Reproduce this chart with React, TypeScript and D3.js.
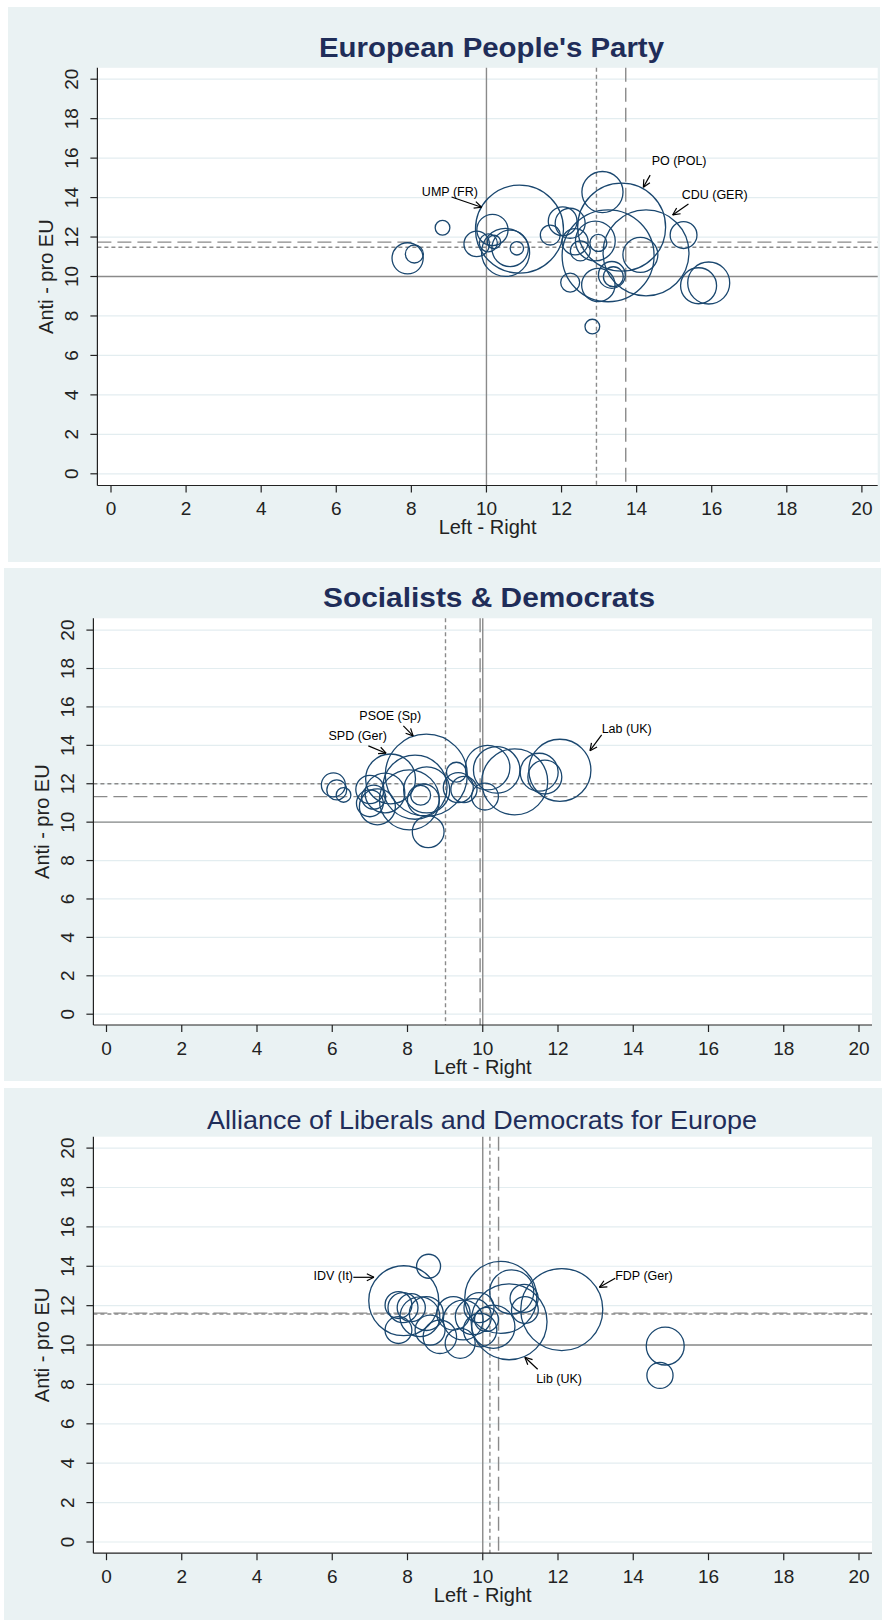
import React from 'react';
import * as d3 from 'd3';

type Party = { lr: number; eu: number; w: number };
type Note = { text: string; tx: number; ty: number; x1: number; y1: number; x2: number; y2: number };
type Refs = { midX: number; midY: number; meanX: number; meanY: number; wMeanX: number; wMeanY: number };

const xTicks = [0, 2, 4, 6, 8, 10, 12, 14, 16, 18, 20];
const yTicks = [0, 2, 4, 6, 8, 10, 12, 14, 16, 18, 20];

const titles = ["European People's Party", 'Socialists & Democrats', 'Alliance of Liberals and Democrats for Europe'];
const xTitle = 'Left - Right';
const yTitle = 'Anti - pro EU';

// European People's Party: left-right, anti-pro EU, size weight
const eppParties: Party[] = [
  { lr: 7.9, eu: 10.92, w: 27 }, { lr: 8.08, eu: 11.14, w: 9 }, { lr: 8.83, eu: 12.47, w: 6 },
  { lr: 10.88, eu: 12.4, w: 215 }, { lr: 10.16, eu: 12.36, w: 27 }, { lr: 9.74, eu: 11.65, w: 18 },
  { lr: 10.05, eu: 11.7, w: 9 }, { lr: 10.2, eu: 11.75, w: 5 }, { lr: 10.63, eu: 11.43, w: 37 },
  { lr: 10.81, eu: 11.43, w: 5 }, { lr: 10.51, eu: 11.22, w: 64 }, { lr: 12.03, eu: 12.8, w: 23 },
  { lr: 11.7, eu: 12.1, w: 11 }, { lr: 12.23, eu: 12.7, w: 25 }, { lr: 12.36, eu: 11.76, w: 19 },
  { lr: 12.5, eu: 11.3, w: 11 }, { lr: 12.98, eu: 11.7, w: 8 }, { lr: 13.6, eu: 12.5, w: 215 },
  { lr: 13.09, eu: 14.28, w: 47 }, { lr: 14.25, eu: 11.2, w: 205 }, { lr: 13.24, eu: 11.05, w: 235 },
  { lr: 14.1, eu: 11.1, w: 34 }, { lr: 15.25, eu: 12.1, w: 20 }, { lr: 15.92, eu: 9.67, w: 49 },
  { lr: 15.65, eu: 9.53, w: 36 }, { lr: 12.82, eu: 7.46, w: 6 }, { lr: 12.98, eu: 9.57, w: 31 },
  { lr: 12.23, eu: 9.69, w: 10 }, { lr: 13.34, eu: 10.08, w: 20 }, { lr: 13.38, eu: 9.99, w: 11 },
  { lr: 12.9, eu: 11.8, w: 44 },
];

const sdParties: Party[] = [
  { lr: 6.03, eu: 11.94, w: 16 }, { lr: 6.12, eu: 11.68, w: 11 }, { lr: 6.3, eu: 11.42, w: 6 },
  { lr: 7.55, eu: 12.25, w: 69 }, { lr: 8.5, eu: 12.45, w: 187 }, { lr: 8.2, eu: 11.82, w: 114 },
  { lr: 7.0, eu: 10.98, w: 20 }, { lr: 7.2, eu: 10.8, w: 36 }, { lr: 7.4, eu: 11.52, w: 44 },
  { lr: 8.55, eu: 9.5, w: 28 }, { lr: 8.42, eu: 11.16, w: 28 }, { lr: 8.51, eu: 11.68, w: 59 },
  { lr: 8.35, eu: 11.4, w: 11 }, { lr: 8.05, eu: 11.16, w: 100 }, { lr: 7.1, eu: 11.3, w: 16 },
  { lr: 9.35, eu: 11.8, w: 25 }, { lr: 9.5, eu: 11.7, w: 19 }, { lr: 9.3, eu: 12.6, w: 11 },
  { lr: 10.13, eu: 12.84, w: 55 }, { lr: 10.37, eu: 12.72, w: 60 }, { lr: 10.85, eu: 12.1, w: 121 },
  { lr: 12.05, eu: 12.7, w: 107 }, { lr: 11.5, eu: 12.6, w: 40 }, { lr: 11.65, eu: 12.35, w: 32 },
  { lr: 10.06, eu: 11.33, w: 20 }, { lr: 7.0, eu: 11.7, w: 22 },
];

const aldeParties: Party[] = [
  { lr: 7.9, eu: 12.25, w: 136 }, { lr: 8.56, eu: 14.0, w: 16 }, { lr: 7.76, eu: 12.03, w: 20 },
  { lr: 7.88, eu: 11.9, w: 25 }, { lr: 7.76, eu: 10.76, w: 20 }, { lr: 8.33, eu: 11.44, w: 44 },
  { lr: 8.6, eu: 10.76, w: 25 }, { lr: 8.5, eu: 11.6, w: 32 }, { lr: 9.22, eu: 11.61, w: 31 },
  { lr: 9.4, eu: 10.09, w: 25 }, { lr: 8.86, eu: 10.42, w: 31 }, { lr: 9.48, eu: 11.27, w: 44 },
  { lr: 9.75, eu: 11.44, w: 36 }, { lr: 8.1, eu: 11.9, w: 22 }, { lr: 12.1, eu: 11.8, w: 187 },
  { lr: 10.48, eu: 12.42, w: 144 }, { lr: 10.7, eu: 11.18, w: 160 }, { lr: 10.77, eu: 12.7, w: 54 },
  { lr: 11.1, eu: 12.37, w: 22 }, { lr: 11.12, eu: 11.78, w: 20 }, { lr: 10.28, eu: 10.93, w: 52 },
  { lr: 9.93, eu: 10.76, w: 31 }, { lr: 14.85, eu: 9.95, w: 40 }, { lr: 14.71, eu: 8.46, w: 19 },
  { lr: 9.9, eu: 11.9, w: 25 }, { lr: 10.1, eu: 11.3, w: 16 },
];

const eppNotes: Note[] = [
  { text: 'UMP (FR)', tx: 8.28, ty: 14.1, x1: 9.07, y1: 14.03, x2: 9.87, y2: 13.51 },
  { text: 'PO (POL)', tx: 14.4, ty: 15.65, x1: 14.36, y1: 15.14, x2: 14.18, y2: 14.52 },
  { text: 'CDU (GER)', tx: 15.2, ty: 13.91, x1: 15.38, y1: 13.67, x2: 14.96, y2: 13.12 },
];
const sdNotes: Note[] = [
  { text: 'PSOE (Sp)', tx: 6.72, ty: 15.32, x1: 7.89, y1: 15.01, x2: 8.15, y2: 14.49 },
  { text: 'SPD (Ger)', tx: 5.9, ty: 14.28, x1: 6.96, y1: 13.97, x2: 7.43, y2: 13.59 },
  { text: 'Lab (UK)', tx: 13.16, ty: 14.66, x1: 13.16, y1: 14.54, x2: 12.85, y2: 13.72 },
];
const aldeNotes: Note[] = [
  { text: 'IDV (It)', tx: 5.5, ty: 13.3, x1: 6.56, y1: 13.44, x2: 7.11, y2: 13.44 },
  { text: 'FDP (Ger)', tx: 13.52, ty: 13.3, x1: 13.52, y1: 13.39, x2: 13.1, y2: 12.93 },
  { text: 'Lib (UK)', tx: 11.42, ty: 8.09, x1: 11.46, y1: 8.77, x2: 11.12, y2: 9.38 },
];

const eppRefs: Refs = { midX: 10, midY: 10, meanX: 12.93, meanY: 11.48, wMeanX: 13.71, wMeanY: 11.74 };
const sdRefs: Refs = { midX: 10, midY: 10, meanX: 9.01, meanY: 12.0, wMeanX: 9.93, wMeanY: 11.33 };
const aldeRefs: Refs = { midX: 10, midY: 10, meanX: 10.19, meanY: 11.58, wMeanX: 10.42, wMeanY: 11.62 };

const NAVY = '#1a476f';
const BG = '#eaf2f3';
const GRID = '#e3edf0';
const REF = '#8a8a8a';
const TITLE = '#1f2d59';
const FONT = "'Liberation Sans', Arial, sans-serif";

const rScale = d3.scaleSqrt().domain([0, 250]).range([0, 3 * Math.sqrt(250)]);

type Layout = {
  bg: [number, number, number, number];
  plot: [number, number, number, number];
  xr: [number, number];
  yr: [number, number];
  titleX: number;
  titleY: number;
  bold: boolean;
  titleSize: number;
  titleLen: number;
};

const layouts: Layout[] = [
  { bg: [8, 7, 880, 562], plot: [97.4, 67.8, 877.7, 485.5], xr: [111, 861.9], yr: [473.8, 79.2], titleX: 491.5, titleY: 56.5, bold: true, titleSize: 27, titleLen: 345 },
  { bg: [4, 568, 881, 1081], plot: [93.4, 618.3, 872, 1025], xr: [106.5, 859], yr: [1014.2, 630.1], titleX: 489, titleY: 607, bold: true, titleSize: 27, titleLen: 332 },
  { bg: [4, 1088, 882, 1620], plot: [93.4, 1136.7, 872, 1553.2], xr: [106.5, 859], yr: [1542, 1148.1], titleX: 482, titleY: 1129, bold: false, titleSize: 26, titleLen: 550 },
];

function Arrow({ x1, y1, x2, y2 }: { x1: number; y1: number; x2: number; y2: number }) {
  const ang = Math.atan2(y2 - y1, x2 - x1);
  const len = 8;
  const spread = 0.45;
  const a1 = ang + Math.PI - spread;
  const a2 = ang + Math.PI + spread;
  return (
    <g stroke="#000" strokeWidth={1.2} fill="none">
      <line x1={x1} y1={y1} x2={x2} y2={y2} />
      <line x1={x2} y1={y2} x2={x2 + len * Math.cos(a1)} y2={y2 + len * Math.sin(a1)} />
      <line x1={x2} y1={y2} x2={x2 + len * Math.cos(a2)} y2={y2 + len * Math.sin(a2)} />
    </g>
  );
}

function Panel({ layout, title, parties, notes, refs }: { layout: Layout; title: string; parties: Party[]; notes: Note[]; refs: Refs }) {
  const [bx0, by0, bx1, by1] = layout.bg;
  const [pl, pt, pr, pb] = layout.plot;
  const x = d3.scaleLinear().domain([0, 20]).range(layout.xr);
  const y = d3.scaleLinear().domain([0, 20]).range(layout.yr);
  const cx = (pl + pr) / 2;
  const cy = (pt + pb) / 2;
  const vLine = (v: number, dash: string | undefined, key: string) => (
    <line key={key} x1={x(v)} x2={x(v)} y1={pt} y2={pb} stroke={REF} strokeWidth={1.4} strokeDasharray={dash} />
  );
  const hLine = (v: number, dash: string | undefined, key: string) => (
    <line key={key} x1={pl} x2={pr} y1={y(v)} y2={y(v)} stroke={REF} strokeWidth={1.4} strokeDasharray={dash} />
  );
  return (
    <g>
      <rect x={bx0} y={by0} width={bx1 - bx0} height={by1 - by0} fill={BG} />
      <rect x={pl} y={pt} width={pr - pl} height={pb - pt} fill="#fff" />
      <text x={layout.titleX} y={layout.titleY} textAnchor="middle" fontFamily={FONT} fontSize={layout.titleSize}
        fontWeight={layout.bold ? 'bold' : 'normal'} fill={TITLE}
        textLength={layout.titleLen} lengthAdjust="spacingAndGlyphs">{title}</text>
      {yTicks.map((t) => (
        <line key={'g' + t} x1={pl} x2={pr} y1={y(t)} y2={y(t)} stroke={GRID} strokeWidth={1.2} />
      ))}
      {hLine(refs.midY, undefined, 'hm')}
      {hLine(refs.wMeanY, '14,6', 'hw')}
      {hLine(refs.meanY, '4,3', 'ha')}
      {vLine(refs.midX, undefined, 'vm')}
      {vLine(refs.wMeanX, '14,6', 'vw')}
      {vLine(refs.meanX, '4,3', 'va')}
      {parties.map((p, i) => (
        <circle key={i} cx={x(p.lr)} cy={y(p.eu)} r={rScale(p.w)} fill="none" stroke={NAVY} strokeWidth={1.3} />
      ))}
      {notes.map((n, i) => (
        <g key={'n' + i}>
          <text x={x(n.tx)} y={y(n.ty)} fontFamily={FONT} fontSize={12.5} fill="#000">{n.text}</text>
          <Arrow x1={x(n.x1)} y1={y(n.y1)} x2={x(n.x2)} y2={y(n.y2)} />
        </g>
      ))}
      <line x1={pl} x2={pl} y1={pt} y2={pb} stroke="#222" strokeWidth={1.2} />
      <line x1={pl} x2={pr} y1={pb} y2={pb} stroke="#222" strokeWidth={1.2} />
      {yTicks.map((t) => (
        <g key={'yt' + t}>
          <line x1={pl - 7} x2={pl} y1={y(t)} y2={y(t)} stroke="#222" strokeWidth={1.2} />
          <text transform={`translate(${pl - 26},${y(t)}) rotate(-90)`} textAnchor="middle" dy="0.36em"
            fontFamily={FONT} fontSize={19} fill="#222">{t}</text>
        </g>
      ))}
      {xTicks.map((t) => (
        <g key={'xt' + t}>
          <line x1={x(t)} x2={x(t)} y1={pb} y2={pb + 7} stroke="#222" strokeWidth={1.2} />
          <text x={x(t)} y={pb + 29.5} textAnchor="middle" fontFamily={FONT} fontSize={19} fill="#222">{t}</text>
        </g>
      ))}
      <text x={cx} y={pb + 48.5} textAnchor="middle" fontFamily={FONT} fontSize={20} fill="#222">{xTitle}</text>
      <text transform={`translate(${pl - 52},${cy}) rotate(-90)`} textAnchor="middle" dy="0.36em"
        fontFamily={FONT} fontSize={20} fill="#222">{yTitle}</text>
    </g>
  );
}

export default function App() {
  const parties = [eppParties, sdParties, aldeParties];
  const notes = [eppNotes, sdNotes, aldeNotes];
  const refs = [eppRefs, sdRefs, aldeRefs];
  return (
    <svg width={888} height={1620} style={{ position: 'absolute', left: 0, top: 0, background: '#fff' }}>
      {layouts.map((l, i) => (
        <Panel key={i} layout={l} title={titles[i]} parties={parties[i]} notes={notes[i]} refs={refs[i]} />
      ))}
    </svg>
  );
}
